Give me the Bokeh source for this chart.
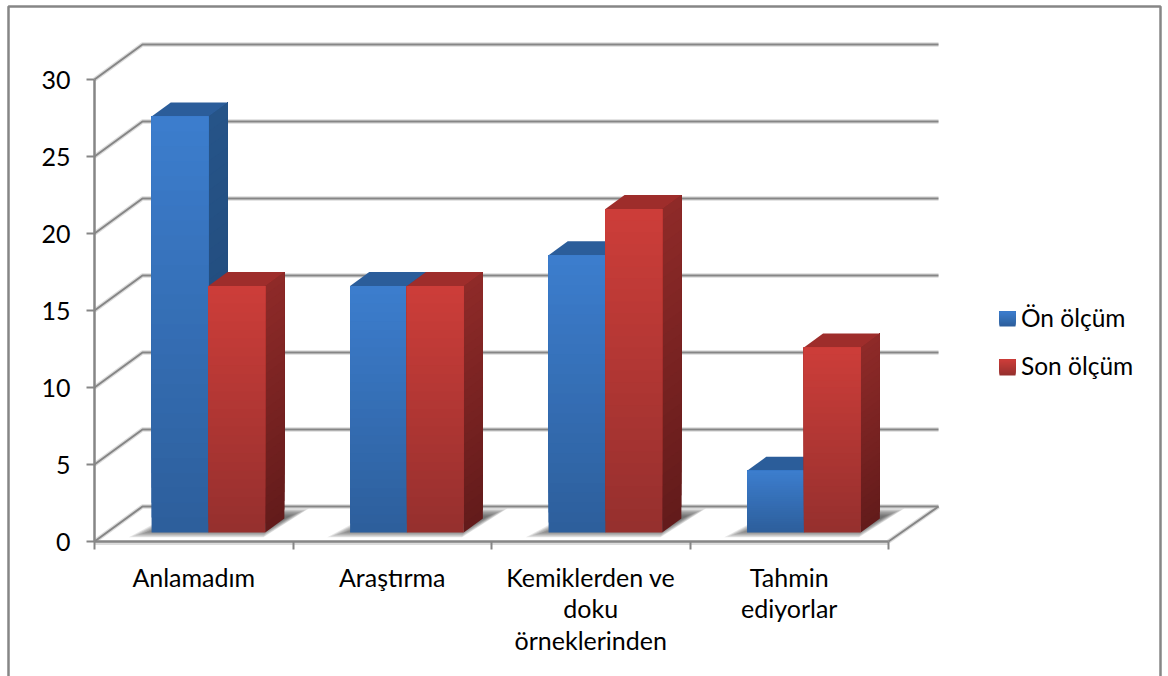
from bokeh.core.properties import value
from bokeh.embed import file_html
from bokeh.models import FixedTicker, Range1d
from bokeh.plotting import figure
from bokeh.resources import INLINE

# Chart data
categories = ["Anlamadım", "Araştırma", "Kemiklerden ve\ndoku\nörneklerinden", "Tahmin\nediyorlar"]
series_names = ["Ön ölçüm", "Son ölçüm"]
on_olcum = [27, 16, 18, 4]
son_olcum = [16, 16, 21, 12]
y_ticks = [0, 5, 10, 15, 20, 25, 30]

# Palette: (top of gradient, bottom of gradient)
front_colors = [("#3c7dcd", "#2d5f9c"), ("#cc3d39", "#96302e")]
side_colors = [("#265488", "#1f4675"), ("#8e2a28", "#631b1b")]
roof_colors = ["#2b5d9a", "#9e2d2b"]
GRID = "#868686"
HALO = "#dcdcdc"
FONT = "Lato"
FONT_SIZE = "25px"
LEGEND_FONT_SIZE = "24.5px"

# Plot scale and the oblique projection of the box
W, H = 1168, 676
ORIGIN_X, ORIGIN_Y = 94, 541
PX_PER_CAT, PX_PER_VAL = 198.5, 15.4
DEPTH_X, DEPTH_Y = 48 / PX_PER_CAT, 35 / PX_PER_VAL
BAR_WIDTH = 56.8 / PX_PER_CAT
BAR_GAP = 44.6 / PX_PER_CAT
BAR_NEAR, BAR_FAR = 0.26, 0.66


def dx(px):
    return px / PX_PER_CAT


def dy(px):
    return px / PX_PER_VAL


def from_px(px, py):
    return dx(px - ORIGIN_X), dy(ORIGIN_Y - py)


def proj(cat, val, depth):
    return cat + depth * DEPTH_X, val + depth * DEPTH_Y


def mix(c0, c1, t):
    a = [int(c0[i:i + 2], 16) for i in (1, 3, 5)]
    b = [int(c1[i:i + 2], 16) for i in (1, 3, 5)]
    return "#%02x%02x%02x" % tuple(round(u + (v - u) * t) for u, v in zip(a, b))


p = figure(
    width=W, height=H, output_backend="svg", toolbar_location=None,
    x_range=Range1d(-dx(ORIGIN_X), dx(W - ORIGIN_X)),
    y_range=Range1d(-dy(H - ORIGIN_Y), dy(ORIGIN_Y)),
    min_border=0, outline_line_color=None, background_fill_color="white",
)
p.grid.visible = False

# Axes sit on the front edge of the box
yax = p.yaxis[0]
yax.fixed_location = 0
yax.bounds = (0, 30)
yax.ticker = FixedTicker(ticks=y_ticks)
yax.minor_tick_line_color = None
yax.major_tick_in = 0
yax.major_tick_out = 8
yax.major_tick_line_color = GRID
yax.major_tick_line_width = 2
yax.axis_line_color = GRID
yax.axis_line_width = 2.5
yax.major_label_standoff = 16
yax.major_label_text_font = FONT
yax.major_label_text_font_size = FONT_SIZE
yax.major_label_text_color = "black"

xax = p.xaxis[0]
xax.fixed_location = 0
xax.bounds = (0, len(categories))
xax.ticker = FixedTicker(ticks=list(range(len(categories) + 1)))
xax.minor_tick_line_color = None
xax.major_tick_in = 0
xax.major_tick_out = 8
xax.major_tick_line_color = GRID
xax.major_tick_line_width = 2
xax.axis_line_color = GRID
xax.axis_line_width = 2.5
xax.major_label_overrides = {i: "" for i in range(len(categories) + 1)}
xax.major_label_standoff = 0

# Outer chart border, open at the bottom of the page
fx0, fy0 = from_px(8, 6)
fx1, fy1 = from_px(1160, H + 4)
p.line([fx0, fx0, fx1, fx1], [fy1, fy0, fy0, fy1], line_color=GRID, line_width=2.5)

# Wall gridlines and floor, each with a pale halo underneath
n_cat = len(categories)
wall_x, wall_y = [], []
for tick in y_ticks:
    x1, y1 = proj(0, tick, 1)
    x2, y2 = proj(n_cat, tick, 1)
    wall_x.append([0, x1, x2 + dx(2)])
    wall_y.append([tick, y1, y2])
fx, fy = proj(n_cat, 0, 1)
wall_x.append([n_cat, fx + dx(2)])
wall_y.append([0, fy])
p.multi_line(wall_x, wall_y, line_color=HALO, line_width=4.5)
p.multi_line(wall_x, wall_y, line_color=GRID, line_width=2)
p.line([0, n_cat], [-dy(2), -dy(2)], line_color=HALO, line_width=3)

# Soft floor shadows behind each bar pair
for i in range(n_cat):
    left = i + BAR_GAP
    right = left + 2 * BAR_WIDTH
    for step in range(10):
        grow = 10 - step * 2
        xs, ys = [], []
        corners = [
            (left - dx(6 + grow), BAR_NEAR - 0.02 - grow * 0.012),
            (right + dx(grow * 0.5), BAR_NEAR - 0.02 - grow * 0.012),
            (right + dx(grow * 0.5 + 6), BAR_FAR + 0.16 + grow * 0.012),
            (left + dx(8 - grow), BAR_FAR + 0.16 + grow * 0.012),
        ]
        for c, d in corners:
            x, y = proj(c, 0, d)
            xs.append(x)
            ys.append(y)
        p.patch(xs, ys, fill_color="#444444", fill_alpha=0.13, line_color=None)

# Bars: side, roof and front, left to right so the right bar overlaps
STRIPS = 28
for s, vals in enumerate([on_olcum, son_olcum]):
    for i, v in enumerate(vals):
        x0 = i + BAR_GAP + s * BAR_WIDTH
        x1 = x0 + BAR_WIDTH
        # Each strip reaches the top of the bar, painted from the bottom upward
        side_x, side_y, side_c, front_x, front_y, front_c = [], [], [], [], [], []
        for k in range(STRIPS):
            t = k / (STRIPS - 1)
            level = v * k / STRIPS
            a = proj(x1, level, BAR_NEAR)
            b = proj(x1, level, BAR_FAR)
            c = proj(x1, v, BAR_FAR)
            d = proj(x1, v, BAR_NEAR)
            side_x.append([a[0], b[0], c[0], d[0]])
            side_y.append([a[1], b[1], c[1], d[1]])
            side_c.append(mix(side_colors[s][1], side_colors[s][0], t))
            e = proj(x0, level, BAR_NEAR)
            f = proj(x1, level, BAR_NEAR)
            g = proj(x1, v, BAR_NEAR)
            h = proj(x0, v, BAR_NEAR)
            front_x.append([e[0], f[0], g[0], h[0]])
            front_y.append([e[1], f[1], g[1], h[1]])
            front_c.append(mix(front_colors[s][1], front_colors[s][0], t))
        p.patches(side_x, side_y, fill_color=side_c, line_color=None)
        roof = [proj(x0, v, BAR_NEAR), proj(x1, v, BAR_NEAR), proj(x1, v, BAR_FAR), proj(x0, v, BAR_FAR)]
        p.patch([q[0] for q in roof], [q[1] for q in roof], fill_color=roof_colors[s], line_color=None)
        p.patches(front_x, front_y, fill_color=front_c, line_color=None)

# Category labels under the box
label_x = [i + 0.5 for i in range(n_cat)]
label_y = [from_px(0, 561)[1]] * n_cat
p.text(
    label_x, label_y, text=categories, text_align="center", text_baseline="top",
    text_font=value(FONT), text_font_size=value(FONT_SIZE), text_color="black",
    text_line_height=1.06,
)

# Legend on the right
SW_X0, SW_X1 = 999, 1015
SW_Y = [(311, 326), (359, 375)]
for s, name in enumerate(series_names):
    top, bottom = SW_Y[s]
    xs, ys, cs = [], [], []
    n = bottom - top
    for k in range(n):
        x0, y0 = from_px(SW_X0, bottom - k)
        x1, y1 = from_px(SW_X1, top)
        xs.append([x0, x1, x1, x0])
        ys.append([y0, y0, y1, y1])
        cs.append(mix(front_colors[s][1], front_colors[s][0], k / (n - 1)))
    p.patches(xs, ys, fill_color=cs, line_color=None)
    tx, ty = from_px(1020.5, (top + bottom) / 2 - 2)
    p.text(
        [tx], [ty], text=[name], text_align="left", text_baseline="middle",
        text_font=value(FONT), text_font_size=value(LEGEND_FONT_SIZE), text_color="black",
    )

open("out.html", "w").write(file_html(p, INLINE))
